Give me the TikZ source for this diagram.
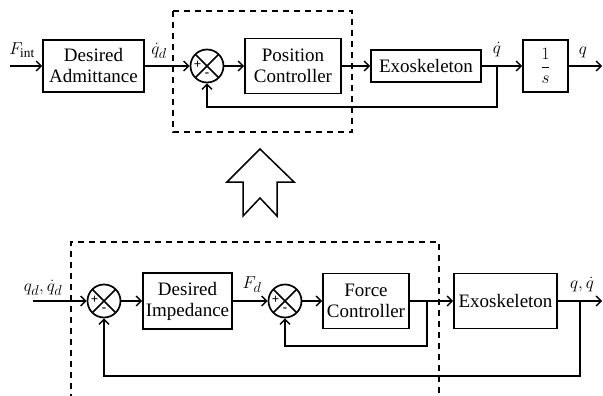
\documentclass[tikz,border=0pt]{standalone}
\usepackage{fontspec}
\setmainfont{Liberation Serif}
\usetikzlibrary{arrows.meta}
\tikzset{
  blk/.style={draw, line width=1.7pt, inner sep=0pt, align=center, font=\fontsize{19}{21}\selectfont},
  sumnode/.style={draw, circle, line width=1.7pt, minimum size=33pt, inner sep=0pt,
    path picture={\draw[line width=1.5pt] (path picture bounding box.north west) -- (path picture bounding box.south east)
      (path picture bounding box.north east) -- (path picture bounding box.south west);}},
  arr/.style={line width=1.4pt, -{Straight Barb[length=5pt,width=10pt,line width=1.4pt]}},
  lbl/.style={font=\fontsize{19}{21}\selectfont, inner sep=0pt},
  sgn/.style={font=\fontsize{13}{13}\selectfont\bfseries, inner sep=0pt},
  dbox/.style={line width=1.3pt, dash pattern=on 6pt off 5pt},
}
\begin{document}
\begin{tikzpicture}[x=1pt,y=-1pt]
\useasboundingbox (0,0) rectangle (603,396);
% ---------- top row ----------
\coordinate (in1) at (10,66);
\node[blk, minimum width=101pt, minimum height=52pt] (adm) at (93.5,66) {Desired\\Admittance};
\node[sumnode] (s1) at (207,66) {};
\node[blk, minimum width=96pt, minimum height=55pt] (pos) at (293,66) {Position\\Controller};
\node[blk, minimum width=110pt, minimum height=32pt] (exo1) at (426,66) {Exoskeleton};
\node[blk, minimum width=45pt, minimum height=52pt] (int) at (545.5,66) {$\displaystyle\frac{1}{s}$};
\coordinate (br1) at (497,66);
\coordinate (fb1) at (497,107);
\coordinate (out1) at (602,66);
\draw[arr] (in1) -- (adm.west);
\draw[arr] (adm.east) -- (s1.west);
\draw[arr] (s1.east) -- (pos.west);
\draw[arr] (pos.east) -- (exo1.west);
\draw[arr] (exo1.east) -- (int.west);
\draw[arr] (int.east) -- (out1);
\draw[arr] (br1) -- (fb1) -| (s1.south);
\node[sgn] (p1) at ([xshift=-9.5pt,yshift=1pt]s1.center) {+};
\node[sgn] (m1) at ([yshift=-9pt]s1.center) {-};
\node[lbl] (lfint) at (22,50) {$F_{\mathrm{int}}$};
\node[lbl] (lqd1) at (159,51) {$\dot{q}_d$};
\node[lbl] (lqdot) at (497,50) {$\dot{q}$};
\node[lbl] (lq) at (583,52) {$q$};
\draw[dbox] (173,11) rectangle (352,132);
% ---------- big arrow ----------
\draw[line width=1.5pt, line join=miter] (260,149) -- (294,182) -- (277,182) -- (277,216) -- (260,198) -- (243,216) -- (243,182) -- (227,182) -- cycle;
% ---------- bottom row ----------
\coordinate (in2) at (33,301);
\node[sumnode] (sA) at (104,301) {};
\node[blk, minimum width=89pt, minimum height=56pt] (imp) at (187.5,301) {Desired\\Impedance};
\node[sumnode] (sB) at (285,301) {};
\node[blk, minimum width=86pt, minimum height=55pt] (frc) at (366,301) {Force\\Controller};
\node[blk, minimum width=103pt, minimum height=55pt] (exo2) at (505.5,301) {Exoskeleton};
\coordinate (br2) at (427,301);
\coordinate (fb2) at (427,346);
\coordinate (br3) at (580,301);
\coordinate (fb3) at (580,376);
\coordinate (out2) at (602,301);
\draw[arr] (in2) -- (sA.west);
\draw[arr] (sA.east) -- (imp.west);
\draw[arr] (imp.east) -- (sB.west);
\draw[arr] (sB.east) -- (frc.west);
\draw[arr] (frc.east) -- (exo2.west);
\draw[arr] (exo2.east) -- (out2);
\draw[arr] (br2) -- (fb2) -| (sB.south);
\draw[arr] (br3) -- (fb3) -| (sA.south);
\node[sgn] (pA) at ([xshift=-9.5pt,yshift=1pt]sA.center) {+};
\node[sgn] (mA) at ([yshift=-9pt]sA.center) {-};
\node[sgn] (pB) at ([xshift=-9.5pt,yshift=1pt]sB.center) {+};
\node[sgn] (mB) at ([yshift=-9pt]sB.center) {-};
\node[lbl] (lin2) at (43,288) {$q_d,\dot{q}_d$};
\node[lbl] (lfd) at (252,285) {$F_d$};
\node[lbl] (lout2) at (582,285) {$q,\dot{q}$};
\draw[dbox] (71,400) -- (71,242) -- (439,242) -- (439,400);
\end{tikzpicture}
\end{document}
